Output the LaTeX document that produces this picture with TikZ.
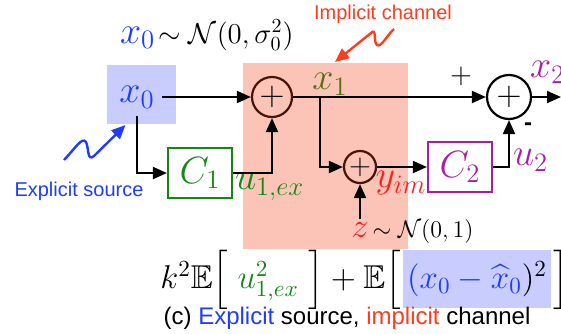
\RequirePackage{fix-cm}
\documentclass[tikz,border=0pt]{standalone}
\usepackage{amsmath, amssymb}
\usepackage{fontspec}
\newfontfamily\helv{Liberation Sans}
\usepackage{tikz}
\usetikzlibrary{shapes, arrows.meta, positioning, calc}

\definecolor{srcblue}{RGB}{30,60,255}
\definecolor{boxblue}{RGB}{200,204,255}
\definecolor{chanpink}{RGB}{251,196,182}
\definecolor{implred}{RGB}{255,60,30}
\definecolor{noisered}{RGB}{255,30,30}
\definecolor{ctrlgreen}{RGB}{20,135,20}
\definecolor{olive}{RGB}{85,110,20}
\definecolor{plum}{RGB}{170,30,160}
\definecolor{darkbrown}{RGB}{70,20,10}

\begin{document}
\begin{tikzpicture}[
    x=0.5pt, y=-0.5pt,
    line width=1pt,
    >={Triangle[length=7pt,width=6pt]},
    mathlbl/.style={font=\fontsize{19}{23}\selectfont, inner sep=0pt},
    adder/.style={circle, draw, line width=1.1pt, inner sep=0pt, minimum size=#1, font=\LARGE},
    ctrl/.style={rectangle, draw, line width=1.1pt, minimum width=32pt, minimum height=25pt, inner sep=0pt, font=\fontsize{19}{23}\selectfont},
    note/.style={font=\helv, inner sep=0pt}
]
    \useasboundingbox (0,0) rectangle (561,333);

    % Shaded regions
    \node (chan) [fill=chanpink, minimum width=82.5pt, minimum height=93pt, inner sep=0pt] at (325.5,156) {};
    \node (x0box) [fill=boxblue, minimum width=34.5pt, minimum height=29.5pt, inner sep=0pt] at (141.5,94.5) {};

    % Main nodes
    \node (x0) [font=\fontsize{19}{23}\selectfont] at (137,97) {$\color{srcblue}x_0$};
    \node (sum1) [adder=20pt, draw=darkbrown] at (272,97) {$+$};
    \node (sum2) [adder=22pt] at (509,97) {$+$};
    \node (sum3) [adder=16pt, draw=darkbrown, font=\Large] at (360,167) {$+$};
    \node (C1) [ctrl, draw=ctrlgreen, text=ctrlgreen] at (200,173) {$C_1$};
    \node (C2) [ctrl, draw=plum, text=plum] at (460,167) {$C_2$};
    \coordinate (br) at (320,97);
    \coordinate (x2end) at (561,97);

    % Labels
    \node (x0dist) [anchor=base west, inner sep=0pt] at (119,43) {{\fontsize{19}{23}\selectfont$\color{srcblue}x_0$}\,{\Large$\sim\mathcal{N}(0,\sigma_0^2)$}};
    \node (x1) [mathlbl, text=olive] at (330,84) {$x_1$};
    \node (x2) [mathlbl, text=plum, anchor=west] at (529,72) {$x_2$};
    \node (u1) [mathlbl, text=ctrlgreen, anchor=west] at (234,187) {$u_{1,ex}$};
    \node (u2) [mathlbl, text=plum, anchor=west] at (512,160) {$u_2$};
    \node (yim) [mathlbl, text=noisered] at (401,183) {$y_{im}$};
    \node (plus) [inner sep=0pt, font=\Large] at (461,76) {$+$};
    \node (minus) [note, font=\helv\bfseries\large] at (528,127) {-};
    \node (z) [anchor=base, inner sep=1pt, font=\LARGE, text=noisered] at (360,237) {$z$};
    \node (zdist) [anchor=base west, inner sep=0pt, font=\large] at (z.base east) {$\sim\mathcal{N}(0,1)$};
    \node (implabel) [note, text=implred] at (383,14) {Implicit channel};
    \node (srclabel) [note, text=srcblue] at (79,191) {Explicit source};

    % Paths
    \draw[->] (x0) -- (sum1);
    \draw[->] (x0.south) |- (C1.west);
    \draw[->] (C1.east) -| (sum1.south);
    \draw[->] (sum1) -- (sum2);
    \draw[->] (br) |- (sum3.west);
    \draw[->] (sum3) -- (C2);
    \draw[->] (C2.east) -| (sum2.south);
    \draw[->] (sum2) -- (x2end);
    \draw[->] (z.north) -- (sum3.south);

    % Squiggly pointers
    \coordinate (srctail) at (64,160);
    \coordinate (imptail) at (394,29);
    \draw[->, srcblue, line width=1.2pt] (srctail) .. controls (74,150) and (82,136) .. (86,142) .. controls (89,148) and (87,162) .. (94,156) -- ([xshift=-8pt]x0box.south);
    \draw[->, implred, line width=1.2pt] (imptail) .. controls (388,34) and (381,48) .. (377,45) .. controls (373,42) and (377,27) .. (371,33) -- ([xshift=4.75pt]chan.north);

    % Cost
    \node (eqM) [fill=boxblue, minimum width=74pt, minimum height=29pt, inner sep=1.5pt, font=\fontsize{16.5}{20}\selectfont] at (477,279) {$\textcolor{srcblue}{(x_0-\widehat{x}_0})^2$};
    \node (eqL) [anchor=base east, inner sep=0pt, font=\fontsize{16.5}{20}\selectfont] at (eqM.base west) {$k^2\mathbb{E}\Bigl[\;\textcolor{ctrlgreen}{u_{1,ex}^2}\;\Bigr]+\mathbb{E}\Bigl[$};
    \node (eqR) [anchor=base west, inner sep=0pt, font=\fontsize{16.5}{20}\selectfont] at (eqM.base east) {$\Bigr]$};

    % Caption
    \node (caption) [note, font=\helv\large] at (347,318) {(c) \textcolor{srcblue}{Explicit} source, \textcolor{implred}{implicit} channel};
\end{tikzpicture}
\end{document}
